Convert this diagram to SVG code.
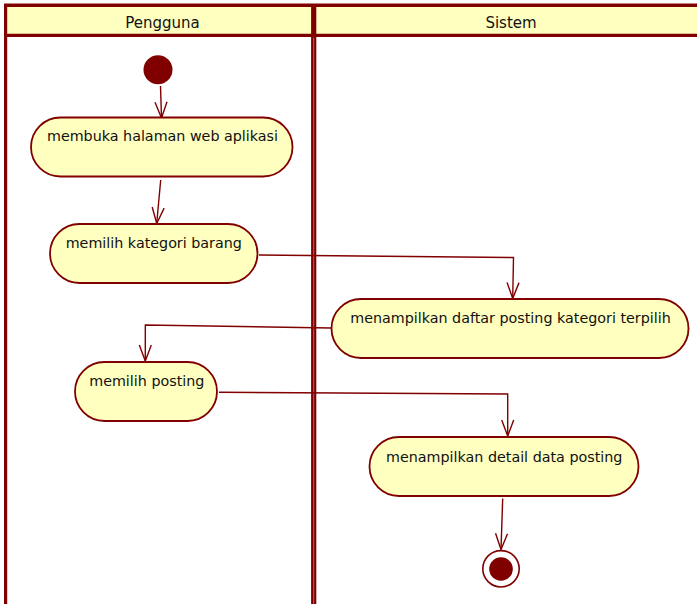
<svg xmlns="http://www.w3.org/2000/svg" width="697" height="604" viewBox="0 0 697 604">
  <style>
    .lane-line { stroke: #800000; fill: none; }
    .header { fill: #FFFFC0; stroke: none; }
    .action { fill: #FFFFC0; stroke: #800000; stroke-width: 1.8; }
    .label { font-family: "DejaVu Sans", "Liberation Sans", sans-serif; font-size: 14.3px; fill: #111111; text-anchor: middle; }
    .lane-title { font-size: 15px; }
    .flow { fill: none; stroke: #800000; stroke-width: 1.4; marker-end: url(#open-arrow); }
  </style>
  <defs>
    <marker id="open-arrow" markerUnits="userSpaceOnUse" viewBox="-17 -8 19 16" markerWidth="19" markerHeight="16" refX="0" refY="0" orient="auto">
      <path d="M-16,-6 L0,0 L-16,6" fill="none" stroke="#800000" stroke-width="1.4"/>
    </marker>
  </defs>
  <rect width="697" height="604" fill="#ffffff"/>

  <!-- swimlane frame -->
  <g id="swimlanes">
    <rect class="header" x="6" y="6" width="691" height="29"/>
    <line class="lane-line" x1="4" y1="5.3" x2="697" y2="5.3" stroke-width="3.4"/>
    <line class="lane-line" x1="4" y1="35.4" x2="697" y2="35.4" stroke-width="3.4"/>
    <line class="lane-line" x1="5.6" y1="4" x2="5.6" y2="604" stroke-width="3.2"/>
    <line class="lane-line" x1="313.7" y1="4" x2="313.7" y2="604" stroke-width="5.2"/>
    <line x1="313.7" y1="37.5" x2="313.7" y2="604" stroke="#c26a6a" stroke-width="0.9"/>
    <text class="label lane-title" x="162.5" y="28">Pengguna</text>
    <text class="label lane-title" x="511" y="28">Sistem</text>
  </g>

  <!-- connectors -->
  <g id="connectors">
    <path class="flow" d="M160.5,86 L161.5,118"/>
    <path class="flow" d="M160.7,180 L156.7,223.5"/>
    <path class="flow" d="M259,255 L513.5,257.5 L512.7,298.5"/>
    <path class="flow" d="M331,328 L145.3,325 L145.3,361"/>
    <path class="flow" d="M219,392.3 L507.7,394 L507.7,436"/>
    <path class="flow" d="M502.7,498.5 L501,549.5"/>
  </g>

  <g id="start">
    <circle cx="158" cy="69.7" r="14.5" fill="#800000"/>
  </g>

  <g id="membuka-halaman">
    <rect class="action" x="31" y="117.5" width="261.5" height="59" rx="29.5"/>
    <text class="label" x="162.5" y="141.2">membuka halaman web aplikasi</text>
  </g>

  <g id="memilih-kategori">
    <rect class="action" x="50" y="224" width="207.5" height="59" rx="29.5"/>
    <text class="label" x="153.8" y="247.6">memilih kategori barang</text>
  </g>

  <g id="menampilkan-daftar">
    <rect class="action" x="331.5" y="299" width="357" height="59" rx="29.5"/>
    <text class="label" x="510.5" y="322.9">menampilkan daftar posting kategori terpilih</text>
  </g>

  <g id="memilih-posting">
    <rect class="action" x="75" y="362" width="142" height="59" rx="29.5"/>
    <text class="label" x="146.8" y="386.2">memilih posting</text>
  </g>

  <g id="menampilkan-detail">
    <rect class="action" x="369.5" y="437" width="269" height="59" rx="29.5"/>
    <text class="label" x="504.2" y="461.6">menampilkan detail data posting</text>
  </g>

  <g id="end">
    <circle cx="501" cy="568.8" r="18.2" fill="#ffffff" stroke="#800000" stroke-width="1.6"/>
    <circle cx="501" cy="569" r="11.8" fill="#800000"/>
  </g>
</svg>
